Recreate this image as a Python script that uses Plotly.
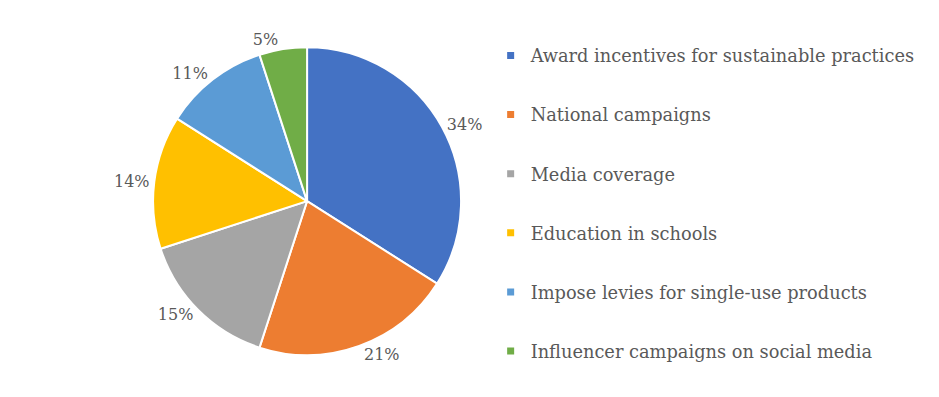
import plotly.graph_objects as go

categories = [
    "Award incentives for sustainable practices",
    "National campaigns",
    "Media coverage",
    "Education in schools",
    "Impose levies for single-use products",
    "Influencer campaigns on social media",
]
values = [34, 21, 15, 14, 11, 5]
colors = ["#4472C4", "#ED7D31", "#A5A5A5", "#FFC000", "#5B9BD5", "#70AD47"]

FONT = "DejaVu Serif"
TXT = "#595959"

fig = go.Figure()
fig.add_trace(go.Pie(
    labels=categories,
    values=values,
    sort=False,
    direction="clockwise",
    rotation=0,
    marker=dict(colors=colors, line=dict(color="white", width=2)),
    textinfo="percent",
    texttemplate="%{percent:.0%}",
    textposition="outside",
    textfont=dict(family=FONT, size=16, color=TXT),
    showlegend=False,
    domain=dict(x=[0.1545, 0.4825], y=[0.114, 0.913]),
    hoverinfo="label+percent",
))

for c, col in zip(categories, colors):
    fig.add_trace(go.Scatter(
        x=[None], y=[None], mode="markers", name=c,
        marker=dict(symbol="square", size=7, color=col),
        legendgroup=c, showlegend=True,
    ))

fig.update_layout(
    width=939, height=397,
    margin=dict(l=0, r=0, t=0, b=0),
    paper_bgcolor="white", plot_bgcolor="white",
    xaxis=dict(visible=False), yaxis=dict(visible=False),
    legend=dict(
        x=0.514, y=0.508, xanchor="left", yanchor="middle",
        font=dict(family=FONT, size=17.8, color=TXT),
        tracegroupgap=33, itemsizing="trace",
    ),
)

fig.write_html("out.html")
